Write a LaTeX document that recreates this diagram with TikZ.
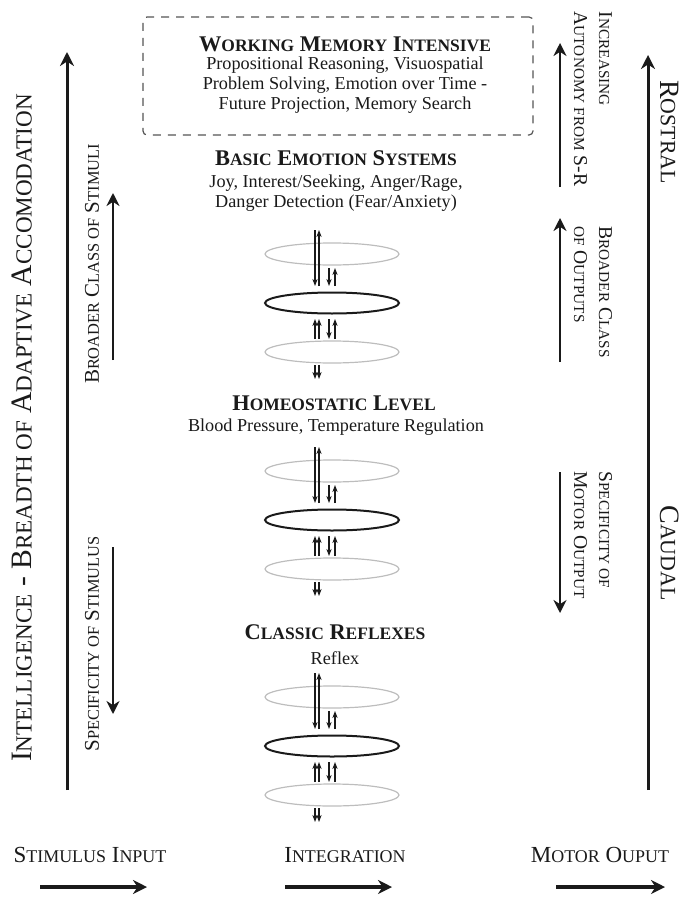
\documentclass[tikz,border=0pt]{standalone}
\usepackage{fontspec}
\setmainfont{Liberation Serif}
\usepackage{graphicx}
\usetikzlibrary{arrows.meta,shapes.geometric,calc}
\definecolor{ink}{HTML}{1A1A1A}
\definecolor{ringgray}{HTML}{BDBDBD}
\definecolor{dashgray}{HTML}{555555}
\newcommand\SC[2]{#1\scalebox{0.78}{#2}}
\newcommand\ringstack[3]{%
  \node[grayring]  (#1a) at (#2,#3) {};
  \node[blackring] (#1b) at (#2,#3+49) {};
  \node[grayring]  (#1c) at (#2,#3+98) {};
  % long pair through the top ring
  \draw[thinarr] ($(#1a.center)+(-17,-24)$) -- ($(#1b.center)+(-17,-17)$);
  \draw[thinarr] ($(#1b.center)+(-13,-17)$) -- ($(#1a.center)+(-13,-24)$);
  % short pair between top ring and middle ring
  \draw[thinarr] ($(#1a.center)+(-3,14)$) -- ($(#1b.center)+(-3,-17)$);
  \draw[thinarr] ($(#1b.center)+(3,-17)$) -- ($(#1a.center)+(3,14)$);
  % pairs between middle ring and bottom ring
  \draw[thinarr] ($(#1c.center)+(-17,-13)$) -- ($(#1b.center)+(-17,16)$);
  \draw[thinarr] ($(#1c.center)+(-13,-13)$) -- ($(#1b.center)+(-13,16)$);
  \draw[thinarr] ($(#1b.center)+(-3,16)$) -- ($(#1c.center)+(-3,-13)$);
  \draw[thinarr] ($(#1c.center)+(3,-13)$) -- ($(#1b.center)+(3,16)$);
  % pair below the bottom ring
  \draw[thinarr] ($(#1c.center)+(-17,13)$) -- ($(#1c.center)+(-17,27)$);
  \draw[thinarr] ($(#1c.center)+(-13,13)$) -- ($(#1c.center)+(-13,27)$);
}
\begin{document}
\begin{tikzpicture}[x=0.5pt,y=-0.5pt,
  every node/.style={text=ink, inner sep=0pt},
  grayring/.style={ellipse, draw=ringgray, line width=0.6pt, minimum width=67pt, minimum height=11pt},
  blackring/.style={ellipse, draw=ink, line width=1pt, minimum width=67pt, minimum height=10.5pt},
  thinarr/.style={draw=ink, line width=0.6pt, -{Stealth[length=3.5pt,width=2.6pt]}},
  bigarr/.style={draw=ink, line width=1.5pt, -{Stealth[length=7pt,width=7pt]}},
  midarr/.style={draw=ink, line width=1.4pt, -{Stealth[length=6.5pt,width=6.5pt]}},
  botarr/.style={draw=ink, line width=2pt, -{Stealth[length=7pt,width=7pt]}},
  hdr/.style={font=\fontsize{11.2}{13}\selectfont\bfseries, align=center},
  sub/.style={font=\fontsize{9.1}{10}\selectfont, align=center},
  bigside/.style={font=\fontsize{14}{16}\selectfont},
  smallleft/.style={font=\fontsize{10.5}{12.5}\selectfont, align=left},
  smallright/.style={font=\fontsize{9.8}{12.5}\selectfont, align=left},
  botlab/.style={font=\fontsize{11.5}{13}\selectfont}
]
\useasboundingbox (0,0) rectangle (689,899);

% top dashed box
\node[draw=dashgray, dashed, line width=0.6pt, dash pattern=on 4pt off 3.5pt, rounded corners=2pt,
      minimum width=195pt, minimum height=59pt] (box) at (338,76) {};
\node[hdr] (wmt) at (345,44) {\SC{W}{ORKING} \SC{M}{EMORY} \SC{I}{NTENSIVE}};
\node[sub] (wms) at (345,85) {Propositional Reasoning, Visuospatial\\Problem Solving, Emotion over Time -\\Future Projection, Memory Search};

% level headings
\node[hdr] (bet) at (336,158) {\SC{B}{ASIC} \SC{E}{MOTION} \SC{S}{YSTEMS}};
\node[sub] (bes) at (336,193) {Joy, Interest/Seeking, Anger/Rage,\\Danger Detection (Fear/Anxiety)};
\node[hdr] (hlt) at (334,403) {\SC{H}{OMEOSTATIC} \SC{L}{EVEL}};
\node[sub] (hls) at (336,427) {Blood Pressure, Temperature Regulation};
\node[hdr] (crt) at (335,632) {\SC{C}{LASSIC} \SC{R}{EFLEXES}};
\node[sub] (crs) at (335,658) {Reflex};

% ring stacks
\ringstack{s1}{332}{254}
\ringstack{s2}{332}{471}
\ringstack{s3}{332}{697}

% left side
\coordinate (lbB) at (67,790); \coordinate (lbT) at (67,52);
\draw[bigarr] (lbB) -- (lbT);
\node[bigside, font=\fontsize{14.8}{16}\selectfont, rotate=90] (intel) at (22,428) {\SC{I}{NTELLIGENCE} - \SC{B}{READTH OF} \SC{A}{DAPTIVE} \SC{A}{CCOMODATION}};
\node[smallleft, rotate=90] (bcs) at (92,264) {\SC{B}{ROADER} \SC{C}{LASS OF} \SC{S}{TIMULI}};
\coordinate (l1B) at (113,360); \coordinate (l1T) at (113,193);
\draw[midarr] (l1B) -- (l1T);
\node[smallleft, rotate=90] (sos) at (92,644) {\SC{S}{PECIFICITY OF} \SC{S}{TIMULUS}};
\coordinate (l2T) at (113,547); \coordinate (l2B) at (113,714);
\draw[midarr] (l2T) -- (l2B);

% right side
\coordinate (rbB) at (648,790); \coordinate (rbT) at (648,55);
\draw[bigarr] (rbB) -- (rbT);
\node[bigside, rotate=-90] (ros) at (670,132) {\SC{R}{OSTRAL}};
\node[bigside, rotate=-90] (cau) at (670,553) {\SC{C}{AUDAL}};
\node[smallright, rotate=-90] (ias) at (593,99) {\SC{I}{NCREASING}\\\SC{A}{UTONOMY FROM} S-R};
\coordinate (r1B) at (560,187); \coordinate (r1T) at (560,43);
\draw[midarr] (r1B) -- (r1T);
\node[smallright, rotate=-90] (bco) at (593,292) {\SC{B}{ROADER} \SC{C}{LASS}\\\scalebox{0.78}{OF} \SC{O}{UTPUTS}};
\coordinate (r2B) at (560,362); \coordinate (r2T) at (560,218);
\draw[midarr] (r2B) -- (r2T);
\node[smallright, rotate=-90] (smo) at (593,535) {\SC{S}{PECIFICITY OF}\\\SC{M}{OTOR} \SC{O}{UTPUT}};
\coordinate (r3T) at (560,472); \coordinate (r3B) at (560,613);
\draw[midarr] (r3T) -- (r3B);

% bottom labels
\node[botlab] (sin) at (90,855) {\SC{S}{TIMULUS} \SC{I}{NPUT}};
\node[botlab] (int) at (345,855) {\SC{I}{NTEGRATION}};
\node[botlab] (mot) at (600,855) {\SC{M}{OTOR} \SC{O}{UPUT}};
\coordinate (b1L) at (40,887); \coordinate (b1R) at (147,887);
\coordinate (b2L) at (285,887); \coordinate (b2R) at (392,887);
\coordinate (b3L) at (556,887); \coordinate (b3R) at (665,887);
\draw[botarr] (b1L) -- (b1R);
\draw[botarr] (b2L) -- (b2R);
\draw[botarr] (b3L) -- (b3R);
\end{tikzpicture}
\end{document}
